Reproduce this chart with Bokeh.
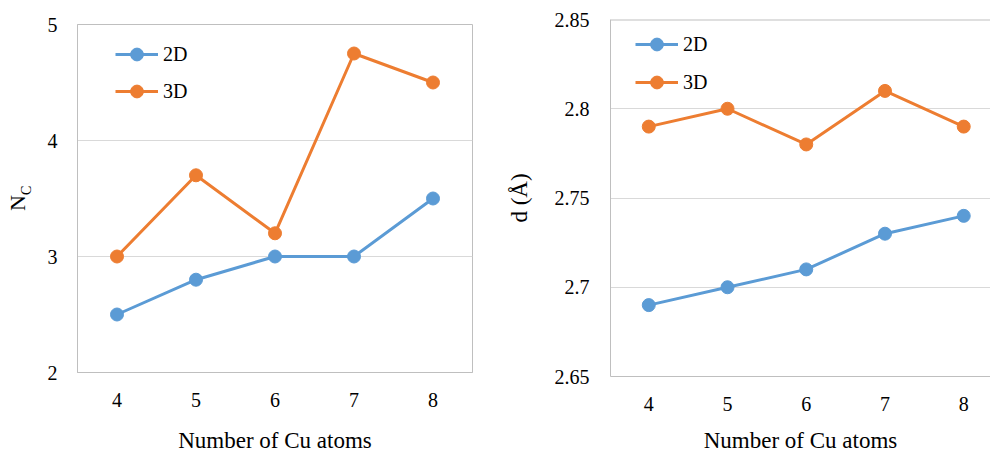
from bokeh.plotting import figure
from bokeh.layouts import row, column
from bokeh.models import Range1d, FixedTicker, Legend, LegendItem, Div, Span
from bokeh.embed import file_html
from bokeh.resources import INLINE

# ---- data ----
atoms = [4, 5, 6, 7, 8]
nc_2d = [2.5, 2.8, 3.0, 3.0, 3.5]
nc_3d = [3.0, 3.7, 3.2, 4.75, 4.5]
d_2d = [2.69, 2.70, 2.71, 2.73, 2.74]
d_3d = [2.79, 2.80, 2.78, 2.81, 2.79]
nc_ticks = [2, 3, 4, 5]
d_ticks = [2.65, 2.7, 2.75, 2.8, 2.85]
d_tick_labels = ["2.65", "2.7", "2.75", "2.8", "2.85"]
series_names = ["2D", "3D"]
x_title = "Number of Cu atoms"
y_title_right = "d (Å)"

BLUE = "#5B9BD5"
ORANGE = "#ED7D31"
FONT = "Liberation Serif"
BORDER = "#BFBFBF"
GRID = "#D9D9D9"
H = 456


def no_ticks(ax):
    ax.major_tick_line_color = None
    ax.minor_tick_line_color = None
    ax.major_tick_out = 0
    ax.major_tick_in = 0
    ax.minor_tick_out = 0
    ax.minor_tick_in = 0


def style(p, tick_standoff_x, tick_standoff_y, title_standoff):
    p.background_fill_color = "white"
    p.border_fill_color = "white"
    p.outline_line_color = BORDER
    p.outline_line_width = 1
    p.xgrid.grid_line_color = None
    p.ygrid.grid_line_color = GRID
    p.ygrid.grid_line_width = 1
    for ax in (p.xaxis[0], p.yaxis[0]):
        no_ticks(ax)
        ax.axis_line_color = BORDER
        ax.major_label_text_font = FONT
        ax.major_label_text_font_size = "20px"
        ax.major_label_text_font_style = "normal"
        ax.major_label_text_color = "#000000"
        ax.axis_label_text_font = FONT
        ax.axis_label_text_font_size = "23px"
        ax.axis_label_text_font_style = "normal"
        ax.axis_label_text_color = "#000000"
    p.xaxis[0].ticker = FixedTicker(ticks=atoms)
    p.xaxis[0].major_label_standoff = tick_standoff_x
    p.yaxis[0].major_label_standoff = tick_standoff_y
    p.xaxis[0].axis_label = x_title
    p.xaxis[0].axis_label_standoff = title_standoff


def add_series(p, ys, color):
    r1 = p.line(atoms, ys, line_color=color, line_width=3)
    r2 = p.scatter(atoms, ys, marker="circle", size=13, fill_color=color, line_color=color)
    return [r1, r2]


def add_legend(p, items, lx, ly, spacing):
    leg = Legend(items=[LegendItem(label=n, renderers=r) for n, r in items],
                 location=(lx, ly), orientation="vertical",
                 label_text_font=FONT, label_text_font_size="20px",
                 label_text_color="#000000", glyph_width=43, glyph_height=32,
                 label_height=32, label_standoff=5, spacing=spacing, padding=0,
                 margin=0, border_line_color=None, background_fill_alpha=0)
    p.add_layout(leg)


# ---- left y title (N with subscript C) ----
ylab = Div(width=40, height=H, margin=0, text=(
    '<div style="position:relative;width:40px;height:456px;">'
    '<div style="position:absolute;left:6.6px;top:211px;transform-origin:0 0;'
    'transform:rotate(-90deg);white-space:nowrap;font-family:\'Liberation Serif\';'
    'font-size:22px;line-height:22px;color:#000000;">'
    'N<sub style="font-size:14px;line-height:0;vertical-align:-6px;">C</sub>'
    '</div></div>'))

# ---- left panel ----
p1 = figure(width=460, height=H, output_backend="svg", toolbar_location=None,
            x_range=Range1d(3.5, 8.5), y_range=Range1d(2, 5),
            min_border_left=37, min_border_right=28, min_border_top=24,
            min_border_bottom=84, margin=0)
style(p1, 20, 20, 18)
p1.yaxis[0].ticker = FixedTicker(ticks=nc_ticks)
a = add_series(p1, nc_2d, BLUE)
b = add_series(p1, nc_3d, ORANGE)
add_legend(p1, [(series_names[0], a), (series_names[1], b)], 38, 265, 5)

# ---- right panel ----
p2 = figure(width=490, height=H, output_backend="svg", toolbar_location=None,
            x_range=Range1d(3.514, 8.34), y_range=Range1d(2.65, 2.85),
            min_border_left=110, min_border_right=0, min_border_top=19,
            min_border_bottom=80, margin=0)
style(p2, 20, 21, 14)
p2.outline_line_color = None
p2.yaxis[0].ticker = FixedTicker(ticks=d_ticks)
p2.yaxis[0].major_label_overrides = {t: s for t, s in zip(d_ticks, d_tick_labels)}
p2.yaxis[0].axis_label = y_title_right
p2.yaxis[0].axis_label_standoff = 20
# top border of the plot area (the right border is cut off in the reference)
p2.add_layout(Span(location=p2.y_range.end, dimension="width",
                   line_color=BORDER, line_width=2))
c = add_series(p2, d_2d, BLUE)
d = add_series(p2, d_3d, ORANGE)
add_legend(p2, [(series_names[0], c), (series_names[1], d)], 25, 278, 6)

layout = row(ylab, column(p1, margin=0), column(p2, margin=0), margin=0, spacing=0)
open("out.html", "w").write(file_html(layout, INLINE))
